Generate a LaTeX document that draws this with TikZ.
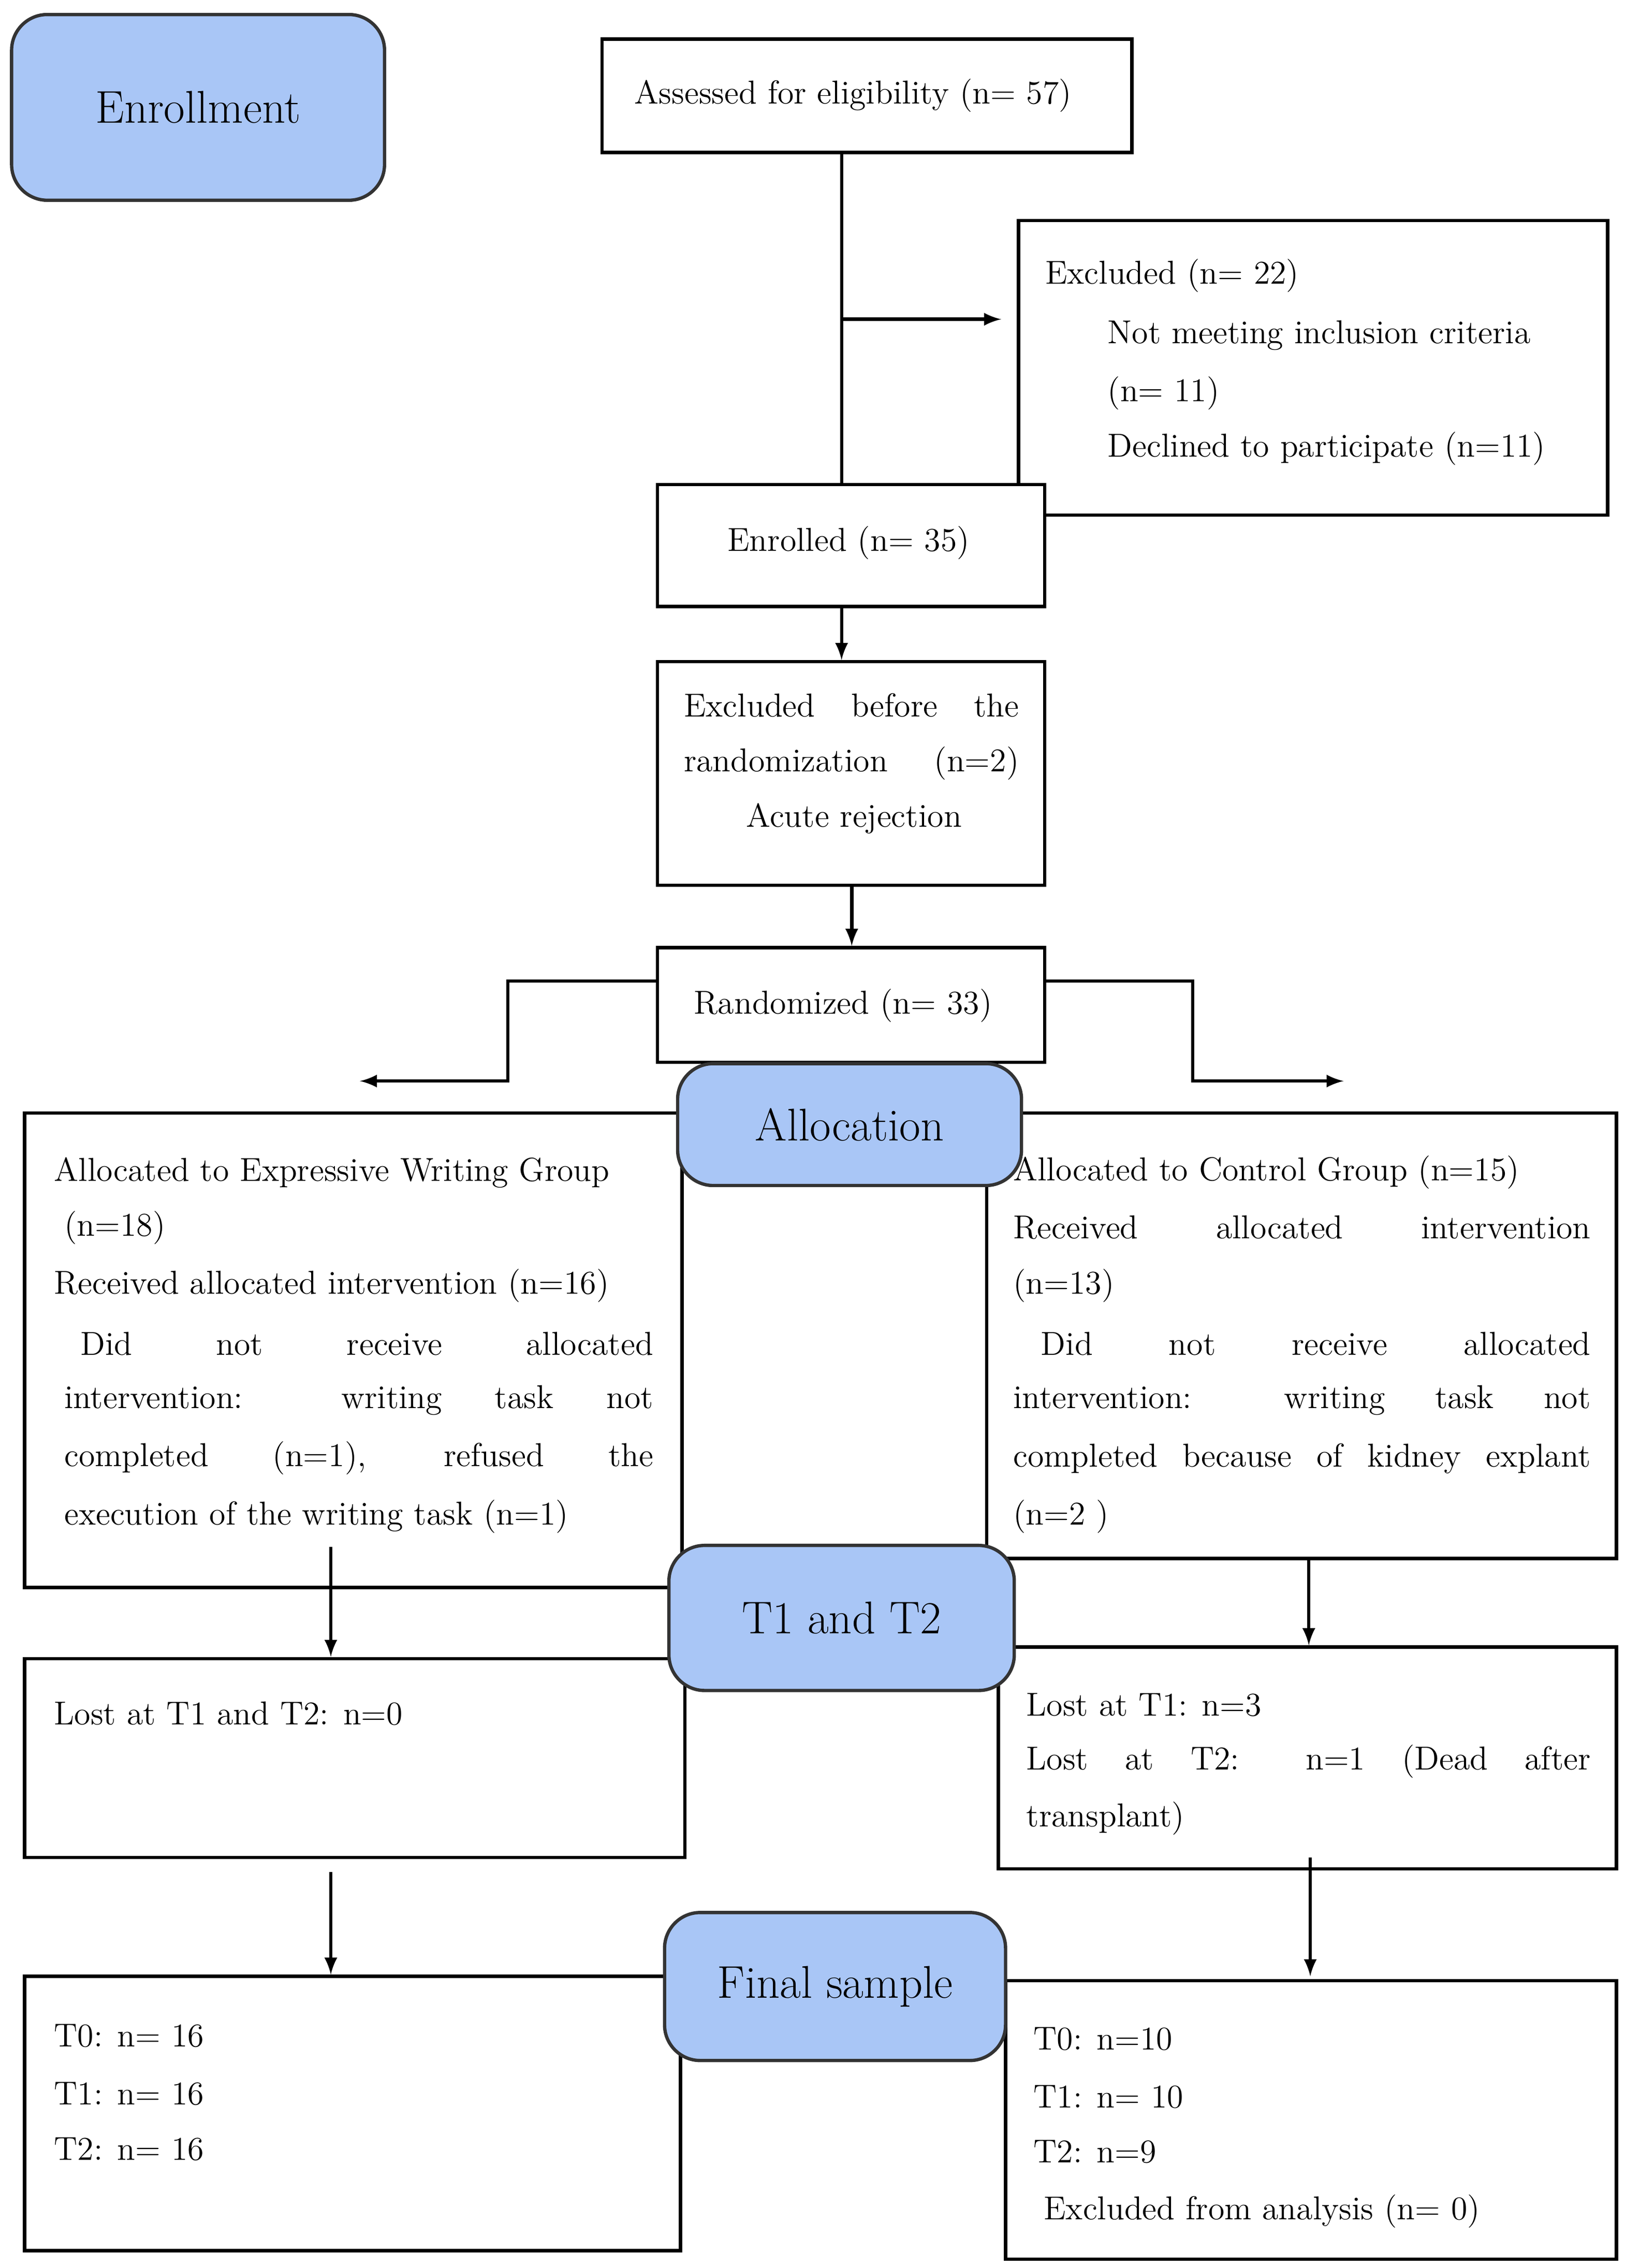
\documentclass[tikz,border=0pt]{standalone}
\usetikzlibrary{fit,calc}
\definecolor{hdr}{HTML}{A9C6F6}
\tikzset{
 box/.style={draw=black,line width=1.3pt,fill=white,inner sep=0pt},
 hbox/.style={draw=black!80,line width=1.3pt,fill=hdr,rounded corners=14pt,inner sep=0pt},
 t/.style={anchor=west,inner sep=0pt,font=\fontsize{13}{15}\selectfont},
 ht/.style={inner sep=0pt,font=\fontsize{18}{20}\selectfont},
 con/.style={line width=1.3pt},
 arr/.style={con,-{latex}},
}
\newcommand{\bx}[6]{\path (#2,#3) coordinate (#1-nw) (#4,#5) coordinate (#1-se);
 \node[#6,fit=(#1-nw)(#1-se)] (#1) {};}
\newcommand{\jl}[2]{\makebox[#1][s]{#2}}
\begin{document}
\begin{tikzpicture}[x=0.02cm,y=-0.02cm]
\useasboundingbox (0,0) rectangle (1130,1563);
% boxes
\bx{enr}{8}{10}{265}{138}{hbox}
\node[ht] (enrt) at (enr) {Enrollment};
\bx{ass}{415}{27}{780}{105}{box}
\node[t] (asst) at (437,66) {Assessed for eligibility (n= 57)};
\bx{exc}{702}{152}{1108}{355}{box}
\node[t] (e1) at (720,190) {Excluded (n= 22)};
\node[t] (e2) at (763,231) {Not meeting inclusion criteria};
\node[t] (e3) at (763,271) {(n= 11)};
\node[t] (e4) at (763,309) {Declined to participate (n=11)};
\bx{enl}{453}{334}{720}{418}{box}
\node[t] (enlt) at (501,374) {Enrolled (n= 35)};
\bx{exb}{453}{456}{720}{610}{box}
\node[t] (x1) at (471,486) {\jl{4.62cm}{Excluded before the}};
\node[t] (x2) at (471,526) {\jl{4.62cm}{randomization (n=2)}};
\node[t] (x3) at (514,564) {Acute rejection};
\bx{ran}{453}{653}{720}{732}{box}
\node[t] (rant) at (478,693) {Randomized (n= 33)};
\bx{la}{17}{767}{470}{1094}{box}
\bx{ra}{680}{767}{1114}{1074}{box}
\node[t] (l1) at (37,808) {Allocated to Expressive Writing Group};
\node[t] (l2) at (44,846) {(n=18)};
\node[t] (l3) at (37,886) {Received allocated intervention (n=16)};
\node[t] (l4) at (55,926) {\jl{7.9cm}{Did not receive allocated}};
\node[t] (l5) at (44,965) {\jl{8.12cm}{intervention: writing task not}};
\node[t] (l6) at (44,1005) {\jl{8.12cm}{completed (n=1), refused the}};
\node[t] (l7) at (44,1045) {execution of the writing task (n=1)};
\node[t] (r1) at (698,808) {Allocated to Control Group (n=15)};
\node[t] (r2) at (698,846) {\jl{7.96cm}{Received allocated intervention}};
\node[t] (r3) at (698,886) {(n=13)};
\node[t] (r4) at (717,926) {\jl{7.58cm}{Did not receive allocated}};
\node[t] (r5) at (698,965) {\jl{7.96cm}{intervention: writing task not}};
\node[t] (r6) at (698,1005) {\jl{7.96cm}{completed because of kidney explant}};
\node[t] (r7) at (698,1045) {(n=2 )};
\bx{alo}{467}{733}{704}{817}{hbox}
\node[ht] (alot) at (alo) {Allocation};
\bx{ll}{17}{1143}{472}{1280}{box}
\node[t] (ll1) at (37,1181) {Lost at T1 and T2: n=0};
\bx{rl}{688}{1135}{1114}{1288}{box}
\node[t] (rl1) at (707,1175) {Lost at T1: n=3};
\node[t] (rl2) at (707,1214) {\jl{7.78cm}{Lost at T2: n=1 (Dead after}};
\node[t] (rl3) at (707,1253) {transplant)};
\bx{tt}{461}{1065}{699}{1165}{hbox}
\node[ht] (ttt) at (tt) {T1 and T2};
\bx{lf}{17}{1362}{469}{1551}{box}
\node[t] (lf1) at (37,1403) {T0: n= 16};
\node[t] (lf2) at (37,1443) {T1: n= 16};
\node[t] (lf3) at (37,1481) {T2: n= 16};
\bx{rf}{693}{1365}{1114}{1557}{box}
\node[t] (rf1) at (712,1405) {T0: n=10};
\node[t] (rf2) at (712,1445) {T1: n= 10};
\node[t] (rf3) at (712,1483) {T2: n=9};
\node[t] (rf4) at (719,1524) {Excluded from analysis (n= 0)};
\bx{fs}{458}{1318}{693}{1420}{hbox}
\node[ht] (fst) at (fs) {Final sample};
% connectors
\coordinate (j1) at (580,220);
\coordinate (ea) at (690,220);
\draw[con] (ass.south -| j1) -- (enl.north -| j1);
\draw[arr] (j1) -- (ea);
\draw[arr] (enl.south -| j1) -- (exb.north -| j1);
\coordinate (j2) at (587,0);
\draw[arr] (exb.south -| j2) -- (ran.north -| j2);
\coordinate (ry) at (0,676);
\coordinate (lt) at (248,745);
\coordinate (rt) at (926,745);
\draw[arr] (ran.west |- ry) -- (350,676) -- (350,745) -- (lt);
\draw[arr] (ran.east |- ry) -- (822,676) -- (822,745) -- (rt);
\coordinate (lx) at (228,0);
\coordinate (rx) at (902,0);
\draw[arr] (228,1066) -- (ll.north -| lx);
\draw[arr] (ra.south -| rx) -- (rl.north -| rx);
\draw[arr] (228,1290) -- (lf.north -| lx);
\draw[arr] (903,1280) -- (903,1362);
\end{tikzpicture}
\end{document}
